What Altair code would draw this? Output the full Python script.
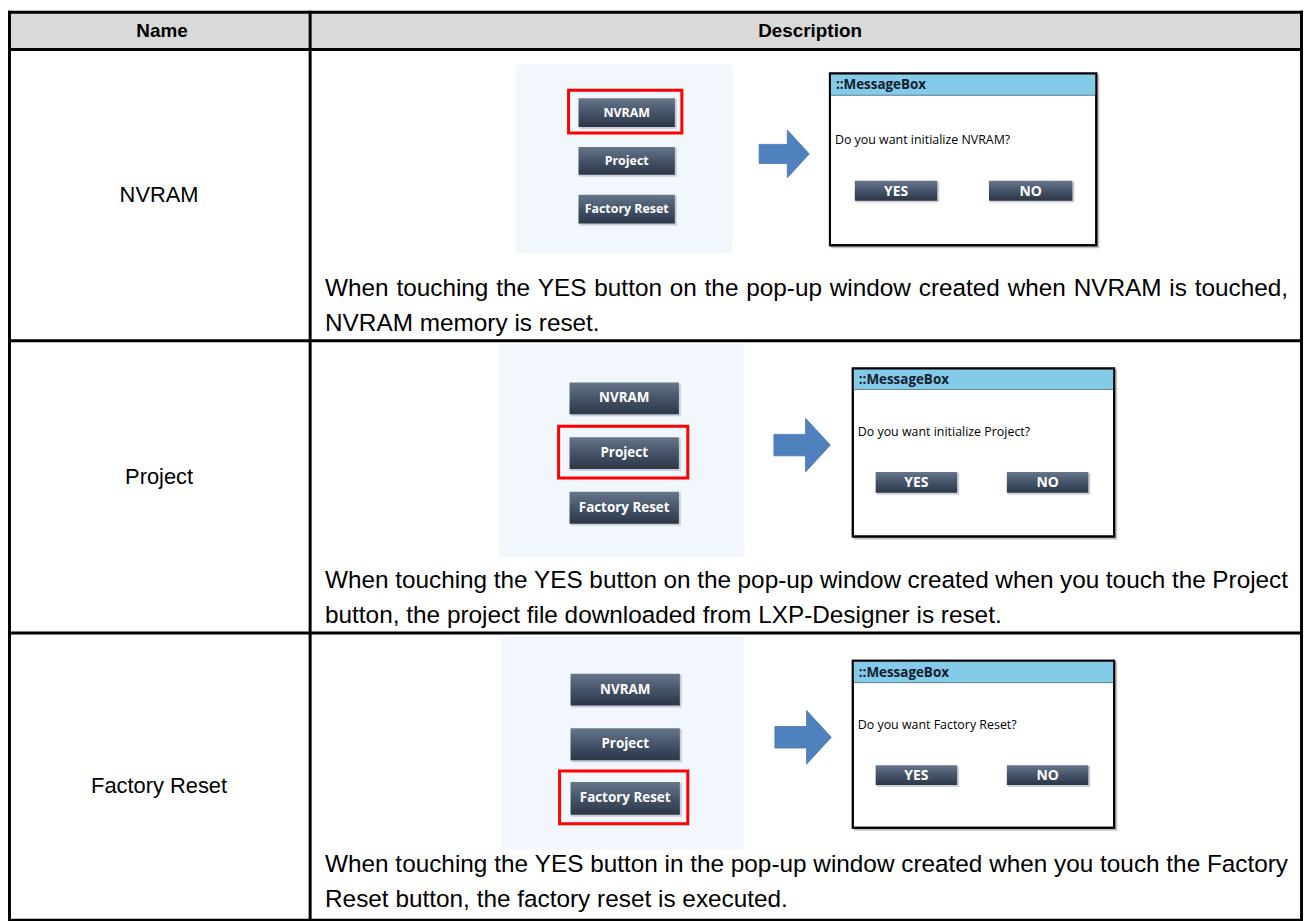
import altair as alt
import pandas as pd

# ---------------- content ----------------
header_labels = ["Name", "Description"]
row_names = ["NVRAM", "Project", "Factory Reset"]
menu_buttons = ["NVRAM", "Project", "Factory Reset"]
dialog_title = "::MessageBox"
dialog_questions = [
    "Do you want initialize NVRAM?",
    "Do you want initialize Project?",
    "Do you want Factory Reset?",
]
dialog_buttons = ["YES", "NO"]
desc_line1 = [
    "When touching the YES button on the pop-up window created when NVRAM is touched,",
    "When touching the YES button on the pop-up window created when you touch the Project",
    "When touching the YES button in the pop-up window created when you touch the Factory",
]
desc_line2 = [
    "NVRAM memory is reset.",
    "button, the project file downloaded from LXP-Designer is reset.",
    "Reset button, the factory reset is executed.",
]

# ---------------- layout (page pixels) ----------------
row_edges = [9.5, 47, 340, 634, 923]
table_left, table_right, col_split = 9.5, 1309.5, 312
header_x = [163, 815]
desc_left, desc_right = 327, 1296
desc_baselines = [(295, 330), (589, 624), (875, 910)]
label_y = [193, 477, 788]

panels = [(519, 62, 737, 252), (502, 343, 749, 558), (504, 638, 749, 852)]
menu_btn_x = [(582, 679), (573, 683), (574, 684)]
menu_btn_y = [[(96, 125), (145, 173), (193, 222)],
              [(382, 414), (437, 469), (492, 524)],
              [(675, 707), (730, 762), (784, 817)]]
red_boxes = [(572, 88, 686, 131), (562, 426, 692, 478), (563, 773, 692, 826)]
arrows = [(789, 152, 48), (807, 445, 54), (808, 739, 54)]
dialogs = [(835, 71, 1103, 244), (858, 368, 1121, 537), (858, 662, 1121, 830)]
title_h = [22, 21, 22]
question_y = [138, 432, 727]
dialog_btn_x = [[(860, 943), (995, 1079)], [(881, 963), (1013, 1095)], [(881, 963), (1013, 1095)]]
dialog_btn_y = [(179, 199), (472, 493), (767, 787)]
menu_font = [12.5, 13.5, 13.5]

DESC_FS = 24.5
AW = {" ": 278, ",": 278, "-": 333, ".": 278, "?": 556,
      "A": 667, "B": 667, "C": 722, "D": 722, "E": 667, "F": 611, "G": 778, "H": 722,
      "I": 278, "J": 500, "K": 667, "L": 556, "M": 833, "N": 722, "O": 778, "P": 667,
      "Q": 778, "R": 722, "S": 667, "T": 611, "U": 722, "V": 667, "W": 944, "X": 667,
      "Y": 667, "Z": 611,
      "a": 556, "b": 556, "c": 500, "d": 556, "e": 556, "f": 278, "g": 556, "h": 556,
      "i": 222, "j": 222, "k": 500, "l": 222, "m": 833, "n": 556, "o": 556, "p": 556,
      "q": 556, "r": 333, "s": 500, "t": 278, "u": 556, "v": 500, "w": 722, "x": 500,
      "y": 500, "z": 500}


def place_words(line, y, justify):
    words = line.split(" ")
    widths = [sum(AW.get(c, 556) for c in w) / 1000 * DESC_FS for w in words]
    if justify and len(words) > 1:
        gap = (desc_right - desc_left - sum(widths)) / (len(words) - 1)
    else:
        gap = AW[" "] / 1000 * DESC_FS
    x = desc_left
    out = []
    for w, wd in zip(words, widths):
        out.append({"x": x, "y": y, "t": w})
        x += wd + gap
    return out


W, H = 1304, 913
XS = alt.Scale(domain=[8, 8 + W], nice=False, zero=False)
YS = alt.Scale(domain=[8, 8 + H], nice=False, zero=False, reverse=True)


def X(f="x"):
    return alt.X(f + ":Q", scale=XS, axis=None)


def Y(f="y"):
    return alt.Y(f + ":Q", scale=YS, axis=None)


def X2(f="x2"):
    return alt.X2(f + ":Q")


def Y2(f="y2"):
    return alt.Y2(f + ":Q")


def rect_layer(df, **mark):
    return alt.Chart(df).mark_rect(**mark).encode(x=X(), x2=X2(), y=Y(), y2=Y2())


btn_grad = alt.LinearGradient(
    gradient="linear",
    stops=[alt.GradientStop(color="#66768b", offset=0),
           alt.GradientStop(color="#46546a", offset=0.5),
           alt.GradientStop(color="#2c3747", offset=1)],
    x1=0, x2=0, y1=0, y2=1)

# ---------------- tables ----------------
header_bg = pd.DataFrame([{"x": 8, "x2": 1310, "y": 9, "y2": 47}])

h_lines = pd.DataFrame([{"x": table_left - 1.5, "x2": table_right + 1.5, "y": e, "y2": e}
                        for e in row_edges])
v_lines = pd.DataFrame([{"x": vx, "x2": vx, "y": row_edges[0] - 1.5, "y2": row_edges[-1]}
                        for vx in (table_left, col_split, table_right)])

header_txt = pd.DataFrame([{"x": header_x[i], "y": 28, "t": header_labels[i]} for i in range(2)])
label_txt = pd.DataFrame([{"x": 160, "y": label_y[i], "t": row_names[i]} for i in range(3)])

desc_rows = []
for i in range(3):
    desc_rows += place_words(desc_line1[i], desc_baselines[i][0], True)
    desc_rows += place_words(desc_line2[i], desc_baselines[i][1], False)
desc_df = pd.DataFrame(desc_rows)

panel_df = pd.DataFrame([{"x": p[0], "y": p[1], "x2": p[2], "y2": p[3]} for p in panels])

mb_rows, mb_shadow, mb_txt = [], [], []
for i in range(3):
    for j in range(3):
        x0, x1 = menu_btn_x[i]
        y0, y1 = menu_btn_y[i][j]
        mb_rows.append({"x": x0, "x2": x1, "y": y0, "y2": y1})
        mb_shadow.append({"x": x0 + 1, "x2": x1 + 2, "y": y0 + 1, "y2": y1 + 2})
        mb_txt.append({"x": (x0 + x1) / 2, "y": (y0 + y1) / 2, "t": menu_buttons[j], "fs": menu_font[i]})
mb_df = pd.DataFrame(mb_rows)
mbs_df = pd.DataFrame(mb_shadow)
mbt_df = pd.DataFrame(mb_txt)

red_df = pd.DataFrame([{"x": r[0], "y": r[1], "x2": r[2], "y2": r[3]} for r in red_boxes])

arrow_df = pd.DataFrame([{"x": a[0], "y": a[1], "s": a[2] * a[2]} for a in arrows])
ARROW = "M -1.05 -0.4 L 0.13 -0.4 L 0.13 -1 L 1.05 0 L 0.13 1 L 0.13 0.4 L -1.05 0.4 Z"

dlg_df = pd.DataFrame([{"x": d[0], "y": d[1], "x2": d[2], "y2": d[3]} for d in dialogs])
dlg_sh = pd.DataFrame([{"x": d[0] + 1, "y": d[1] + 1, "x2": d[2] + 3, "y2": d[3] + 3} for d in dialogs])
title_df = pd.DataFrame([{"x": d[0], "y": d[1], "x2": d[2], "y2": d[1] + title_h[i]}
                         for i, d in enumerate(dialogs)])
title_line = pd.DataFrame([{"x": d[0], "x2": d[2], "y": d[1] + title_h[i], "y2": d[1] + title_h[i]}
                           for i, d in enumerate(dialogs)])
title_txt = pd.DataFrame([{"x": d[0] + 6, "y": d[1] + title_h[i] / 2 + 1, "t": dialog_title}
                          for i, d in enumerate(dialogs)])
q_txt = pd.DataFrame([{"x": dialogs[i][0] + 5, "y": question_y[i], "t": dialog_questions[i]}
                      for i in range(3)])

db_rows, db_sh, db_txt = [], [], []
for i in range(3):
    y0, y1 = dialog_btn_y[i]
    for j in range(2):
        x0, x1 = dialog_btn_x[i][j]
        db_rows.append({"x": x0, "x2": x1, "y": y0, "y2": y1})
        db_sh.append({"x": x0 + 1, "x2": x1 + 2, "y": y0 + 1, "y2": y1 + 2})
        db_txt.append({"x": (x0 + x1) / 2, "y": (y0 + y1) / 2 + 1, "t": dialog_buttons[j]})
db_df = pd.DataFrame(db_rows)
dbs_df = pd.DataFrame(db_sh)
dbt_df = pd.DataFrame(db_txt)

# ---------------- layers ----------------
layers = [
    rect_layer(header_bg, color="#d9d9d9"),
    rect_layer(panel_df, color="#f2f6fd"),
    rect_layer(mbs_df, color="#b8bec6", opacity=0.7),
    rect_layer(mb_df, color=btn_grad),
    alt.Chart(mbt_df).mark_text(font="Open Sans", fontWeight="bold", color="white",
                                align="center", baseline="middle").encode(
        x=X(), y=Y(), text="t:N", size=alt.Size("fs:Q", scale=None, legend=None)),
    rect_layer(red_df, fillOpacity=0, stroke="#ff0000", strokeWidth=3),
    alt.Chart(arrow_df).mark_point(shape=ARROW, filled=True, color="#4f81bd", opacity=1,
                                   stroke="#4677b2", strokeWidth=0.8).encode(
        x=X(), y=Y(), size=alt.Size("s:Q", scale=None, legend=None)),
    rect_layer(dlg_sh, color="#9a9a9a", opacity=0.6),
    rect_layer(dlg_df, color="white", stroke="black", strokeWidth=2),
    rect_layer(title_df, color="#84cbe9"),
    alt.Chart(title_line).mark_rule(color="#5e7f8f", strokeWidth=1).encode(
        x=X(), x2=X2(), y=Y(), y2=Y2()),
    rect_layer(dlg_df, fillOpacity=0, stroke="black", strokeWidth=2),
    alt.Chart(title_txt).mark_text(font="Open Sans", fontWeight="bold", fontSize=13.5,
                                   color="#14202c", align="left", baseline="middle").encode(
        x=X(), y=Y(), text="t:N"),
    alt.Chart(q_txt).mark_text(font="Open Sans", fontSize=12.5, color="#000000",
                               align="left", baseline="middle").encode(
        x=X(), y=Y(), text="t:N"),
    rect_layer(dbs_df, color="#b8bec6", opacity=0.7),
    rect_layer(db_df, color=btn_grad),
    alt.Chart(dbt_df).mark_text(font="Open Sans", fontWeight="bold", fontSize=14,
                                color="white", align="center", baseline="middle").encode(
        x=X(), y=Y(), text="t:N"),
    alt.Chart(header_txt).mark_text(font="Liberation Sans", fontWeight="bold", fontSize=19,
                                    color="black", align="center", baseline="middle").encode(
        x=X(), y=Y(), text="t:N"),
    alt.Chart(label_txt).mark_text(font="Liberation Sans", fontSize=22, color="black",
                                   align="center", baseline="middle").encode(
        x=X(), y=Y(), text="t:N"),
    alt.Chart(desc_df).mark_text(font="Liberation Sans", fontSize=DESC_FS, color="black",
                                 align="left", baseline="alphabetic").encode(
        x=X(), y=Y(), text="t:N"),
    alt.Chart(h_lines).mark_rule(color="black", strokeWidth=3).encode(
        x=X(), x2=X2(), y=Y(), y2=Y2()),
    alt.Chart(v_lines).mark_rule(color="black", strokeWidth=3).encode(
        x=X(), x2=X2(), y=Y(), y2=Y2()),
]

chart = alt.layer(*layers).properties(
    width=W, height=H, padding=0,
    autosize=alt.AutoSizeParams(type="none"),
    background="white",
).configure_view(stroke=None)

chart.save("out.html", embed_options={"renderer": "svg", "actions": False})
